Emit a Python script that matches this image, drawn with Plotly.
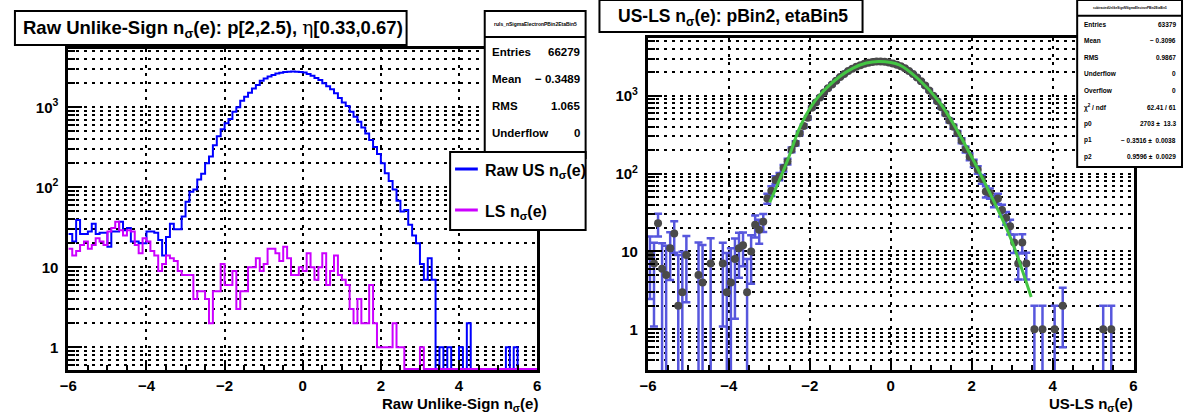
import numpy as np
import plotly.graph_objects as go

W, H = 1187, 414
X_MIN, X_MAX, N_BINS = -6.0, 6.0, 120

# ---------------- data ----------------
us_counts = [
    26, 21, 39, 26, 26, 28, 35, 26, 27, 27,
    18, 28, 28, 37, 29, 31, 21, 21, 20, 20,
    28, 28, 27, 22, 14, 24, 35, 30, 30, 43,
    66, 88, 94, 125, 148, 200, 242, 335, 435, 530,
    630, 715, 880, 1000, 1210, 1360, 1525, 1720, 1900, 2150,
    2300, 2420, 2530, 2640, 2700, 2760, 2790, 2800, 2790, 2760,
    2720, 2600, 2480, 2330, 2200, 2000, 1830, 1680, 1500, 1310,
    1150, 1040, 880, 760, 660, 560, 470, 390, 320, 260,
    200, 150, 120, 94, 68, 50, 52, 34, 25, 20,
    11, 7, 13, 7, 0, 1, 0, 1, 0, 0,
    1, 0, 2, 0, 0, 0, 0, 0, 0, 0,
    0, 0, 1, 0, 1, 0, 0, 0, 0, 0,
]
ls_counts = [
    17, 14, 16, 19, 21, 17, 19, 23, 21, 19,
    28, 31, 37, 29, 25, 29, 28, 19, 15, 23,
    21, 16, 14, 9, 11, 14, 13, 12, 9, 8,
    8, 8, 4, 5, 5, 4, 2, 5, 5, 11,
    6, 6, 9, 3, 5, 5, 10, 10, 13, 9,
    11, 17, 17, 15, 12, 18, 13, 8, 8, 10,
    9, 15, 10, 7, 10, 15, 6, 9, 14, 8,
    7, 6, 3, 2, 4, 2, 2, 6, 2, 1,
    1, 1, 1, 2, 1, 1, 0, 0, 0, 0,
    1, 0, 0, 0, 0, 0, 0, 0, 0, 0,
    0, 0, 0, 0, 0, 0, 0, 0, 0, 0,
    0, 0, 0, 0, 0, 0, 0, 0, 0, 0,
]
# US-LS points (bin index, value) shown on the right panel
sub_bins = [0, 1, 2, 3, 4, 5, 6, 7, 8, 9, 12, 13, 15, 18, 19, 20, 21, 22, 23, 24,
            25, 26, 27, 28, 29] + list(range(30, 94)) + [95, 97, 100, 102, 112, 114]
sub_vals = [9, 7, 23, 6, 5, 11, 17, 2, 3, 9, 5, 4, 7, 7, 3, 4, 8, 11, 12, 3,
            10, 22, 19, 24, 48,
            60, 83, 92, 118, 143, 202, 245, 330, 410, 520,
            700, 820, 950, 1100, 1250, 1400, 1560, 1740, 1900, 2080,
            2220, 2350, 2460, 2570, 2650, 2710, 2750, 2760, 2730, 2680,
            2600, 2510, 2400, 2250, 2080, 1900, 1720, 1540, 1350, 1170,
            1000, 850, 710, 590, 480, 400, 330, 265, 205, 165,
            136, 112, 85, 59, 56, 44, 48, 34, 27, 21,
            13, 7, 13, 7,
            1, 1, 1, 2, 1, 1]
# fitted gaussian curve
fit_x = [-2.99, -2.56, -2.235, -1.91, -1.585, -1.26, -0.93, -0.605, -0.28,
         0.21, 0.70, 1.19, 1.68, 2.08, 2.57, 2.98, 3.47]
fit_y = [42.6, 143, 403, 805, 1256, 1771, 2268, 2632, 2755,
         2502, 1606, 845, 331, 136, 41.7, 14.1, 2.6]

x_tick_vals = [-6, -4, -2, 0, 2, 4, 6]
x_tick_text = ["\u22126", "\u22124", "\u22122", "0", "2", "4", "6"]
y_tick_vals = [1, 10, 100, 1000]
y_tick_text = ["1", "10", "10<sup>2</sup>", "10<sup>3</sup>"]

left_title = ("Raw Unlike-Sign n<sub>\u03c3</sub>(e): p[2,2.5), "
              "<span style='font-family:DejaVu Serif;font-weight:normal'>\u03b7</span>[0.33,0.67)")
right_title = "US-LS n<sub>\u03c3</sub>(e): pBin2, etaBin5"
left_xtitle = "Raw Unlike-Sign n<sub>\u03c3</sub>(e)"
right_xtitle = "US-LS n<sub>\u03c3</sub>(e)"
left_stats_name = "ruls_nSigmaElectronPBin2EtaBin5"
left_stats = [("Entries", "66279"), ("Mean", "\u2212 0.3489"), ("RMS", "1.065"),
              ("Underflow", "0")]
right_stats_name = "subtractedUnlikeSignNSigmaElectronPBin2EtaBin5"
right_stats = [("Entries", "63379"), ("Mean", "\u2212 0.3096"), ("RMS", "0.9867"),
               ("Underflow", "0"), ("Overflow", "0"), ("\u03c7<sup>2</sup> / ndf", "62.41 / 61"),
               ("p0", "2703 \u00b1  13.3"), ("p1", "\u2212 0.3516 \u00b1  0.0038"),
               ("p2", "0.9596 \u00b1  0.0029")]
legend_items = [("Raw US n<sub>\u03c3</sub>(e)", "#0000ff"), ("LS n<sub>\u03c3</sub>(e)", "#cc00ff")]

# ---------------- helpers ----------------
def px(x):
    return x / W

def py(y):
    return 1 - y / H

FONT = "Liberation Sans, Arial, sans-serif"
LEFT_YR = [-0.284, 3.729]
RIGHT_YR = [-0.523, 3.742]

edges = np.linspace(X_MIN, X_MAX, N_BINS + 1)
centers = 0.5 * (edges[:-1] + edges[1:])


def step_y(counts, floor):
    arr = np.array(counts, dtype=float)
    arr[arr <= 0] = floor
    return np.append(arr, arr[-1])


fig = go.Figure()
floor_l = 10 ** LEFT_YR[0] * 1.03
fig.add_trace(go.Scatter(x=edges, y=step_y(us_counts, floor_l), mode="lines",
                         line=dict(shape="hv", color="#0000ff", width=2),
                         xaxis="x", yaxis="y", showlegend=False, hoverinfo="skip"))
fig.add_trace(go.Scatter(x=edges, y=step_y(ls_counts, floor_l), mode="lines",
                         line=dict(shape="hv", color="#cc00ff", width=2),
                         xaxis="x", yaxis="y", showlegend=False, hoverinfo="skip"))

sb = np.array(sub_bins)
sv = np.array(sub_vals, dtype=float)
err = np.sqrt(np.array(us_counts, float)[sb] + np.array(ls_counts, float)[sb])
err_lo = sv - np.maximum(sv - err, 1e-3)
fig.add_trace(go.Scatter(x=centers[sb], y=sv, mode="markers",
                         marker=dict(color="#4a4a4a", size=8),
                         error_y=dict(type="data", array=err, arrayminus=err_lo,
                                      color="#5757dd", thickness=2.5, width=4),
                         xaxis="x2", yaxis="y2", showlegend=False, hoverinfo="skip"))
fig.add_trace(go.Scatter(x=fit_x, y=fit_y, mode="lines",
                         line=dict(shape="spline", color="#44c544", width=3),
                         xaxis="x2", yaxis="y2", showlegend=False, hoverinfo="skip"))


def minor_vals(lo, hi):
    vals = []
    for d in range(int(np.floor(lo)) - 1, int(np.ceil(hi)) + 1):
        for m in range(2, 10):
            v = m * 10.0 ** d
            if 10 ** lo <= v <= 10 ** hi:
                vals.append(v)
    return vals


grid = dict(showgrid=True, gridcolor="black", griddash="3px,5px", gridwidth=2)
xcommon = dict(range=[X_MIN, X_MAX], tickvals=x_tick_vals, ticktext=x_tick_text,
               ticks="inside", ticklen=10, tickwidth=2, tickcolor="black",
               showline=True, linecolor="black", linewidth=3, mirror=True,
               zeroline=False, tickfont=dict(family=FONT, size=15, color="black", weight="bold"),
               minor=dict(dtick=0.5, ticks="inside", ticklen=5, tickwidth=2, tickcolor="black",
                          showgrid=False),
               **grid)


def ycommon(yr):
    return dict(type="log", range=yr, tickvals=y_tick_vals, ticktext=y_tick_text,
                ticks="inside", ticklen=14, tickwidth=2, tickcolor="black",
                showline=True, linecolor="black", linewidth=3, mirror=True,
                zeroline=False, ticklabelstandoff=4,
                tickfont=dict(family=FONT, size=15, color="black", weight="bold"),
                minor=dict(tickvals=minor_vals(*yr), ticks="inside", ticklen=7, tickwidth=2,
                           tickcolor="black", showgrid=True, gridcolor="black",
                           griddash="3px,5px", gridwidth=2),
                **grid)


fig.update_layout(
    width=W, height=H, margin=dict(l=0, r=0, t=0, b=0),
    paper_bgcolor="white", plot_bgcolor="white", showlegend=False,
    xaxis=dict(domain=[px(60), px(534)], anchor="y", **xcommon),
    yaxis=dict(domain=[py(370), py(49)], anchor="x", **ycommon(LEFT_YR)),
    xaxis2=dict(domain=[px(646), px(1137)], anchor="y2", **xcommon),
    yaxis2=dict(domain=[py(370), py(38)], anchor="x2", **ycommon(RIGHT_YR)),
)

shapes = []
annotations = []


def box(x0, y0, x1, y1, lw=2):
    shapes.append(dict(type="rect", xref="paper", yref="paper", x0=px(x0), x1=px(x1),
                       y0=py(y1), y1=py(y0), line=dict(color="black", width=lw),
                       fillcolor="white", layer="above"))


def hline(x0, x1, y, color="black", lw=2):
    shapes.append(dict(type="line", xref="paper", yref="paper", x0=px(x0), x1=px(x1),
                       y0=py(y), y1=py(y), line=dict(color=color, width=lw), layer="above"))


def text(x, y, s, size, anchor="left", bold=True, yanchor="middle"):
    annotations.append(dict(xref="paper", yref="paper", x=px(x), y=py(y), text=s,
                            showarrow=False, xanchor=anchor, yanchor=yanchor,
                            font=dict(family=FONT, size=size, color="black",
                                      weight="bold" if bold else "normal")))


# titles
box(6, 11, 402, 45)
text(12, 29, left_title, 18.5)
box(597, 0, 863, 32)
text(614, 18, right_title, 17.5)

# left stats box
box(481, 11, 583, 158)
hline(481, 583, 37)
text(532, 24, left_stats_name, 5, anchor="center")
for i, (k, v) in enumerate(left_stats):
    yy = 52 + i * 27
    text(486, yy, k, 11.5)
    text(579, yy, v, 11.5, anchor="right")

# legend
box(446, 152, 583, 230)
for i, (lab, col) in enumerate(legend_items):
    yy = 169 + i * 41
    hline(451, 474, yy, color=col, lw=3)
    text(479, yy + 2, lab, 16)

# right stats box
box(1080, 0, 1186, 167)
hline(1080, 1186, 15.7)
text(1133, 8, right_stats_name, 3, anchor="center")
for i, (k, v) in enumerate(right_stats):
    yy = 24 + i * 16.6
    text(1085, yy, k, 6.5)
    text(1182, yy, v, 6.5, anchor="right")

# axis titles
text(537, 393, left_xtitle, 15, anchor="right", yanchor="top")
text(1138, 393, right_xtitle, 15, anchor="right", yanchor="top")

fig.update_layout(shapes=shapes, annotations=annotations)
fig.write_html("out.html")
